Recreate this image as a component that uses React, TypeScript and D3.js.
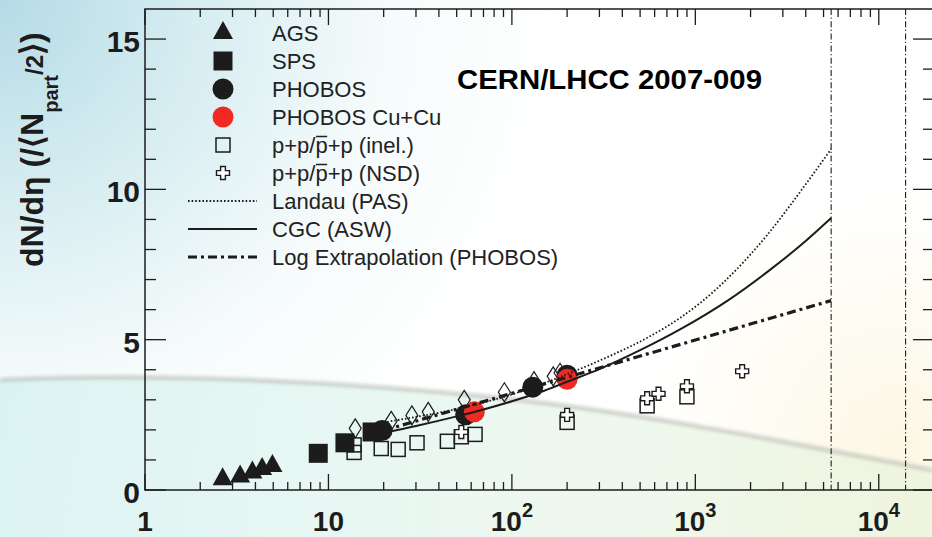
import React from 'react';
import * as d3 from 'd3';

const W = 932;
const H = 537;

// Charged-particle density per participant pair vs collision energy sqrt(s_NN) [GeV]
const agsEnergy = [2.65, 3.3, 3.85, 4.35, 4.95];
const agsValue = [0.36, 0.45, 0.58, 0.7, 0.8];

const spsEnergy = [8.8, 12.3, 17.3];
const spsValue = [1.22, 1.57, 1.93];

const phobosEnergy = [19.6, 56, 130, 200];
const phobosValue = [1.98, 2.5, 3.42, 3.82];

const cuEnergy = [62.4, 200];
const cuValue = [2.6, 3.68];

const diamondEnergy = [14, 22, 28.5, 35, 55, 91, 132, 168, 183];
const diamondValue = [2.05, 2.3, 2.48, 2.6, 3.0, 3.25, 3.62, 3.78, 3.9];

const inelEnergy = [13.8, 13.8, 19.4, 24, 30.4, 44.5, 53, 63, 200, 546, 900];
const inelValue = [1.25, 1.5, 1.38, 1.35, 1.57, 1.62, 1.77, 1.85, 2.25, 2.8, 3.1];

const nsdEnergy = [53, 200, 546, 630, 900, 1800];
const nsdValue = [1.93, 2.5, 3.05, 3.2, 3.45, 3.95];

// Model curves
const landauEnergy = [20, 68, 100, 190, 363, 550, 832, 1072, 1862, 2455, 3162, 4074, 5500];
const landauValue = [2.25, 2.89, 3.18, 3.8, 4.53, 5.07, 5.74, 6.24, 7.63, 8.47, 9.33, 10.24, 11.34];

const cgcEnergy = [20, 30, 50, 70, 100, 150, 200, 300, 500, 830, 1500, 2500, 3750, 5500];
const cgcValue = [1.9, 2.13, 2.45, 2.68, 2.95, 3.3, 3.6, 4.02, 4.65, 5.35, 6.3, 7.28, 8.14, 9.05];

const logEnergy = [20, 200, 5500];
const logValue = [1.98, 3.75, 6.3];

// LHC energies
const lhcEnergy = [5500, 14000];

// Axis labels
const yLabelValues = [0, 5, 10, 15];
const xLabelValues = [1, 10, 100, 1000, 10000];
const xLabelBase = ['1', '10', '10', '10', '10'];
const xLabelExp = ['', '', '2', '3', '4'];

const legendLabels = [
  'AGS',
  'SPS',
  'PHOBOS',
  'PHOBOS Cu+Cu',
  'inel',
  'NSD',
  'Landau (PAS)',
  'CGC (ASW)',
  'Log Extrapolation (PHOBOS)',
];

const x = d3.scaleLog().domain([1, 2e4]).range([145, 934]);
const y = d3.scaleLinear().domain([0, 16]).range([490, 9]);

const INK = '#1c1c1c';
const RED = '#f02a22';
const FONT = '"Liberation Sans", Arial, Helvetica, sans-serif';
const LEG_FS = 22;

const pts = (ex: number[], vals: number[]) => ex.map((e, i) => [e, vals[i]] as [number, number]);

const curve = d3
  .line<[number, number]>()
  .x((d) => x(d[0]))
  .y((d) => y(d[1]))
  .curve(d3.curveMonotoneX);

const crossPath = (a: number, b: number) =>
  `M${-b},${-a}L${b},${-a}L${b},${-b}L${a},${-b}L${a},${b}L${b},${b}L${b},${a}L${-b},${a}L${-b},${b}L${-a},${b}L${-a},${-b}L${-b},${-b}Z`;

const trianglePath = (w: number, h: number) =>
  `M0,${(-2 * h) / 3}L${w / 2},${h / 3}L${-w / 2},${h / 3}Z`;

const diamondPath = (w: number, h: number) => `M0,${-h}L${w},0L0,${h}L${-w},0Z`;

function Marker({ kind, cx, cy }: { kind: string; cx: number; cy: number }) {
  const t = `translate(${cx},${cy})`;
  switch (kind) {
    case 'tri':
      return <path transform={t} d={trianglePath(20, 18)} fill={INK} />;
    case 'sq':
      return <rect x={cx - 9.5} y={cy - 9.5} width={19} height={19} fill={INK} />;
    case 'circ':
      return <circle cx={cx} cy={cy} r={10.5} fill={INK} />;
    case 'red':
      return <circle cx={cx} cy={cy} r={10.5} fill={RED} />;
    case 'osq':
      return (
        <rect x={cx - 7} y={cy - 7} width={14} height={14} fill="none" stroke={INK} strokeWidth={1.5} />
      );
    case 'cross':
      return <path transform={t} d={crossPath(6.5, 2.4)} fill="#fff" stroke={INK} strokeWidth={1.4} />;
    case 'dia':
      return <path transform={t} d={diamondPath(6, 9.5)} fill="none" stroke={INK} strokeWidth={1.2} />;
    default:
      return null;
  }
}

function App() {
  const xTicks = x.ticks().filter((v) => v <= 2e4);
  const yTicks = d3.range(0, 16, 1);
  const isMajorX = (v: number) => Math.abs(Math.log10(v) - Math.round(Math.log10(v))) < 1e-9;

  const legendY = (i: number) => 33 + i * 28;
  const legendMarkers = ['tri', 'sq', 'circ', 'red', 'osq', 'cross'];

  // "p+p/" advance width in em (Arial metrics) to place the antiproton bar
  const barStart = 272 + 1.974 * LEG_FS;
  const barEnd = barStart + 0.556 * LEG_FS;

  return (
    <svg
      width={W}
      height={H}
      viewBox={`0 0 ${W} ${H}`}
      style={{ position: 'absolute', left: 0, top: 0, fontFamily: FONT }}
    >
      <defs>
        <radialGradient id="bgBlue" cx="0" cy="0" r="560" gradientUnits="userSpaceOnUse">
          <stop offset="0" stopColor="#b5dbe6" />
          <stop offset="0.35" stopColor="#d6edf1" />
          <stop offset="0.7" stopColor="#f6fbfb" />
          <stop offset="1" stopColor="#ffffff" />
        </radialGradient>
        <linearGradient id="lowBand" x1="0" y1="0" x2="932" y2="0" gradientUnits="userSpaceOnUse">
          <stop offset="0" stopColor="#d9f2f2" />
          <stop offset="0.35" stopColor="#e5f6f2" />
          <stop offset="0.65" stopColor="#edf7ec" />
          <stop offset="1" stopColor="#edf4dc" />
        </linearGradient>
        <radialGradient id="warm" cx="900" cy="450" r="300" gradientUnits="userSpaceOnUse">
          <stop offset="0" stopColor="#fbf4d8" stopOpacity="0.7" />
          <stop offset="0.6" stopColor="#fdf9e8" stopOpacity="0.4" />
          <stop offset="1" stopColor="#ffffff" stopOpacity="0" />
        </radialGradient>
        <filter id="soft" x="-5%" y="-50%" width="110%" height="200%">
          <feGaussianBlur stdDeviation="1.6" />
        </filter>
      </defs>

      {/* slide background */}
      <rect x={0} y={0} width={W} height={H} fill="url(#bgBlue)" />
      <rect x={0} y={0} width={W} height={H} fill="url(#warm)" />
      <path
        d="M0,380 C150,372 350,382 500,398 S800,445 932,470 L932,537 L0,537 Z"
        fill="url(#lowBand)"
        fillOpacity={0.9}
      />
      <path
        d="M0,380 C150,372 350,382 500,398 S800,445 932,470"
        fill="none"
        stroke="#b8bbb2"
        strokeOpacity={0.55}
        strokeWidth={5}
        filter="url(#soft)"
      />

      {/* LHC energies */}
      {lhcEnergy.map((e) => (
        <line
          key={e}
          x1={x(e)}
          x2={x(e)}
          y1={y(16)}
          y2={y(0)}
          stroke={INK}
          strokeWidth={1.1}
          strokeDasharray="6,2.5,1.2,2.5"
        />
      ))}

      {/* data markers */}
      {pts(diamondEnergy, diamondValue).map((d, i) => (
        <Marker key={`d${i}`} kind="dia" cx={x(d[0])} cy={y(d[1])} />
      ))}
      {pts(inelEnergy, inelValue).map((d, i) => (
        <Marker key={`o${i}`} kind="osq" cx={x(d[0])} cy={y(d[1])} />
      ))}
      {pts(nsdEnergy, nsdValue).map((d, i) => (
        <Marker key={`n${i}`} kind="cross" cx={x(d[0])} cy={y(d[1])} />
      ))}
      {pts(agsEnergy, agsValue).map((d, i) => (
        <Marker key={`a${i}`} kind="tri" cx={x(d[0])} cy={y(d[1])} />
      ))}
      {pts(spsEnergy, spsValue).map((d, i) => (
        <Marker key={`s${i}`} kind="sq" cx={x(d[0])} cy={y(d[1])} />
      ))}
      {pts(phobosEnergy, phobosValue).map((d, i) => (
        <Marker key={`p${i}`} kind="circ" cx={x(d[0])} cy={y(d[1])} />
      ))}
      {pts(cuEnergy, cuValue).map((d, i) => (
        <Marker key={`c${i}`} kind="red" cx={x(d[0])} cy={y(d[1])} />
      ))}

      {/* model curves */}
      <path
        d={curve(pts(landauEnergy, landauValue)) || ''}
        fill="none"
        stroke={INK}
        strokeWidth={1.8}
        strokeDasharray="1.6,2"
      />
      <path d={curve(pts(cgcEnergy, cgcValue)) || ''} fill="none" stroke={INK} strokeWidth={2} />
      <path
        d={curve(pts(logEnergy, logValue)) || ''}
        fill="none"
        stroke={INK}
        strokeWidth={3.2}
        strokeDasharray="9,4,3,4"
      />

      {/* frame */}
      <rect x={145} y={9} width={789} height={481} fill="none" stroke={INK} strokeWidth={1.5} />

      {/* x ticks, bottom and top */}
      {xTicks.map((v) => {
        const len = isMajorX(v) ? 16 : 8;
        return (
          <g key={`xt${v}`}>
            <line x1={x(v)} x2={x(v)} y1={y(0)} y2={y(0) - len} stroke={INK} strokeWidth={1.3} />
            <line x1={x(v)} x2={x(v)} y1={y(16)} y2={y(16) + len} stroke={INK} strokeWidth={1.3} />
          </g>
        );
      })}

      {/* y ticks, left and right */}
      {yTicks.map((v) => {
        const len = v % 5 === 0 ? 21 : 11;
        return (
          <g key={`yt${v}`}>
            <line x1={145} x2={145 + len} y1={y(v)} y2={y(v)} stroke={INK} strokeWidth={1.3} />
            <line x1={934} x2={934 - len} y1={y(v)} y2={y(v)} stroke={INK} strokeWidth={1.3} />
          </g>
        );
      })}

      {/* y tick labels */}
      {yLabelValues.map((v) => (
        <text
          key={`yl${v}`}
          x={140}
          y={y(v) + 13}
          textAnchor="end"
          fontSize={30}
          fontWeight="bold"
          fill={INK}
        >
          {v}
        </text>
      ))}

      {/* x tick labels */}
      {xLabelValues.map((v, i) => (
        <text key={`xl${v}`} x={x(v)} y={531} textAnchor="middle" fontSize={28} fontWeight="bold" fill={INK}>
          {xLabelBase[i]}
          {xLabelExp[i] && (
            <tspan dy={-14} fontSize={20}>
              {xLabelExp[i]}
            </tspan>
          )}
        </text>
      ))}

      {/* y axis title */}
      <text
        transform="translate(43,267) rotate(-90)"
        fontSize={32}
        fontWeight="bold"
        fill={INK}
      >
        dN/dη (/⟨N
        <tspan dy={15} fontSize={20}>
          part
        </tspan>
        <tspan dy={-15} fontSize={24}>
          /2
        </tspan>
        <tspan fontSize={32}>⟩)</tspan>
      </text>

      {/* note */}
      <text x={457} y={89} fontSize={28} fontWeight="bold" fill="#000" textLength={305} lengthAdjust="spacingAndGlyphs">
        CERN/LHCC 2007-009
      </text>

      {/* legend */}
      {legendMarkers.map((k, i) => (
        <Marker key={`lm${k}`} kind={k} cx={223} cy={legendY(i)} />
      ))}
      <line x1={188} x2={257} y1={legendY(6)} y2={legendY(6)} stroke={INK} strokeWidth={1.8} strokeDasharray="1.6,2" />
      <line x1={188} x2={257} y1={legendY(7)} y2={legendY(7)} stroke={INK} strokeWidth={2} />
      <line x1={188} x2={257} y1={legendY(8)} y2={legendY(8)} stroke={INK} strokeWidth={3.2} strokeDasharray="9,4,3,4" />
      {legendLabels.map((label, i) => {
        const ty = legendY(i) + 8;
        if (label === 'inel' || label === 'NSD') {
          return (
            <g key={label}>
              <text x={272} y={ty} fontSize={LEG_FS} fill="#222">
                {`p+p/p+p (${label === 'inel' ? 'inel.' : 'NSD'})`}
              </text>
              <line x1={barStart + 0.5} x2={barEnd - 0.5} y1={ty - 16.5} y2={ty - 16.5} stroke="#222" strokeWidth={1.5} />
            </g>
          );
        }
        return (
          <text key={label} x={272} y={ty} fontSize={LEG_FS} fill="#222">
            {label}
          </text>
        );
      })}
    </svg>
  );
}

export default App;
